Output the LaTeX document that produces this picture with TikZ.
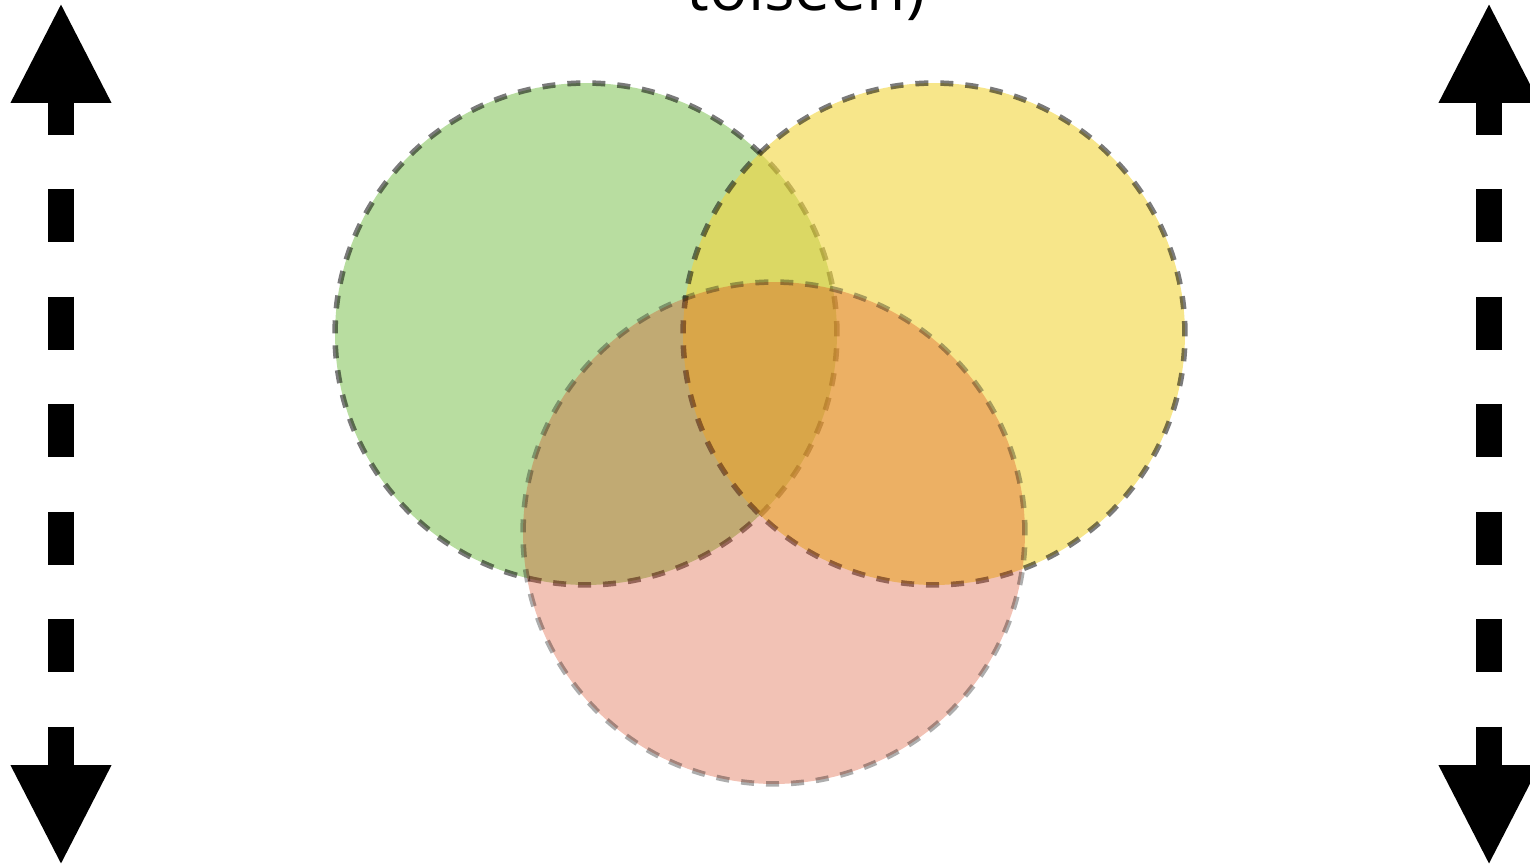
\documentclass[tikz,border=0pt]{standalone}
\usepackage{fontspec}
\newfontfamily\titlefont{Open Sans}
\usetikzlibrary{arrows.meta}
\definecolor{setgreen}{RGB}{137,198,97}
\definecolor{setyellow}{RGB}{242,213,60}
\definecolor{setred}{RGB}{213,58,16}
\begin{document}
\begin{tikzpicture}[
  x=0.02cm, y=-0.02cm,
  setcircle/.style={circle, draw=black, line width=0.11cm, dash pattern=on 0.26cm off 0.24cm,
    minimum size=10.04cm, inner sep=0pt, outer sep=0pt},
  bigarrow/.style={line width=0.52cm, dash pattern=on 1.06cm off 1.09cm, dash phase=0.3cm,
    {Triangle[length=2.02cm,width=1.86cm]}-{Triangle[length=2.02cm,width=1.86cm]}}
]
  \useasboundingbox (0,0) rectangle (1530,867);
  \clip (0,0) rectangle (1530,867);

  \node[anchor=base, inner sep=0pt, font=\titlefont\fontsize{36.5}{44}\selectfont] (title) at (806,10) {toiseen)};

  % the three sets
  \node[setcircle, fill=setgreen, fill opacity=0.6, draw opacity=0.52] (green) at (586,334) {};
  \node[setcircle, fill=setyellow, fill opacity=0.6, draw opacity=0.52] (yellow) at (934,334) {};
  \node[setcircle, fill=setred, fill opacity=0.31, draw opacity=0.32] (red) at (774,533) {};

  % side arrows
  \coordinate (ltop) at (61,2);
  \coordinate (lbot) at (61,866);
  \coordinate (rtop) at (1489,2);
  \coordinate (rbot) at (1489,866);
  \draw[bigarrow] (ltop) -- (lbot);
  \draw[bigarrow] (rtop) -- (rbot);
\end{tikzpicture}
\end{document}
